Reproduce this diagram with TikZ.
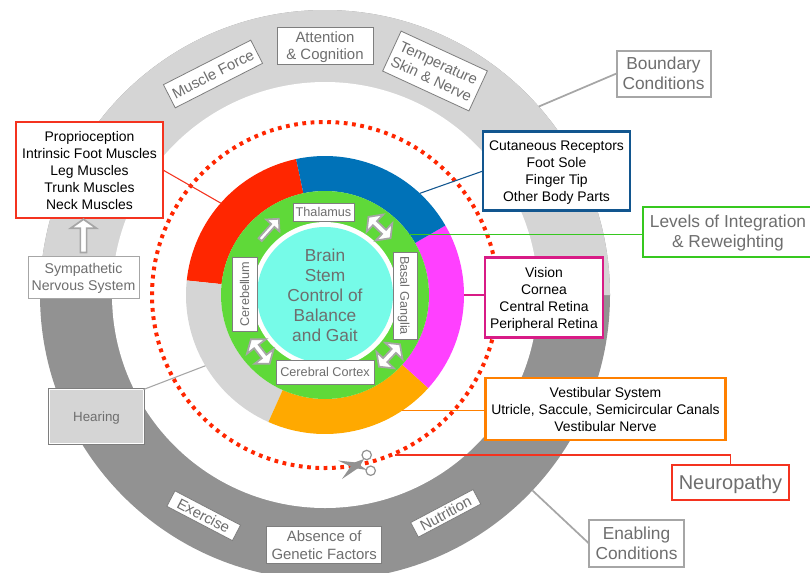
\documentclass[tikz,border=0pt]{standalone}
\usepackage{fontspec}
\setmainfont{Liberation Sans}
\usetikzlibrary{calc, shapes.arrows}
\definecolor{ringlight}{HTML}{D5D5D5}
\definecolor{ringdark}{HTML}{929292}
\definecolor{segred}{HTML}{FF2600}
\definecolor{segblue}{HTML}{0072B8}
\definecolor{segmagenta}{HTML}{FF40FF}
\definecolor{segorange}{HTML}{FFA900}
\definecolor{seggreen}{HTML}{5FD939}
\definecolor{segcyan}{HTML}{76FBE8}
\definecolor{labelgray}{HTML}{6E6E6E}
\definecolor{framegray}{HTML}{A6A6A6}
\definecolor{framedark}{HTML}{7E7E7E}
\definecolor{framered}{HTML}{F4331F}
\definecolor{frameblue}{HTML}{12568F}
\definecolor{framemagenta}{HTML}{D81B86}
\definecolor{frameorange}{HTML}{FF8000}
\definecolor{framegreen}{HTML}{36C81F}

\begin{document}
\begin{tikzpicture}[x=0.75pt, y=-0.75pt]
\tikzset{
  boxsize/.style 2 args={minimum width=#1*0.75pt, minimum height=#2*0.75pt},
  every node/.style={inner sep=0pt, outer sep=0pt, align=center},
  sense/.style={fill=white, line width=1.8pt, text=black, text depth=-1pt, font=\fontsize{10.45}{12.75}\selectfont},
  ringbox/.style={draw=framedark, fill=white, line width=0.6pt, text=labelgray, text depth=-1pt, font=\fontsize{11.2}{13}\selectfont},
  corebox/.style={ringbox, font=\fontsize{9.5}{11}\selectfont},
  bigbox/.style={draw=framegray, fill=white, line width=1.5pt, text=labelgray, text depth=-1pt, font=\fontsize{13}{15}\selectfont},
  onearrow/.style={single arrow, draw=framegray, fill=white, line width=1.3pt, inner sep=0.3pt, sloped, allow upside down, minimum height=21pt, minimum width=13.5pt, single arrow head extend=3pt},
  twoarrow/.style={double arrow, draw=framegray, fill=white, line width=1.3pt, inner sep=0.3pt, sloped, allow upside down, minimum height=23pt, minimum width=18pt, double arrow head extend=3pt, double arrow tip angle=106},
  leader/.style={line width=0.8pt}
}
\useasboundingbox (0,0) rectangle (810,572);
\clip (0,0) rectangle (810,572);
\coordinate (C) at (325,295);

% rings, all angles as seen on the page
\begin{scope}[shift={(C)}, x=0.75pt, y=0.75pt]
\fill [ringdark] (0,0) circle (285);
\fill [ringlight] (-285,0) arc (180:0:285) -- cycle;
\fill [white] (0,0) circle (213);
\foreach \segcol/\segfrom/\segto in {segred/102/174, ringlight/174/246, segorange/246/318, segmagenta/318/390, segblue/30/102}
  \fill [\segcol] (\segfrom:139) arc (\segfrom:\segto:139) -- (\segto:104) arc (\segto:\segfrom:104) -- cycle;
\fill [seggreen] (0,0) circle (104);
\fill [white] (0,0) circle (73);
\fill [segcyan] (0,0) circle (68);
\draw [segred, line width=3pt, dash pattern=on 2.8pt off 3.43pt] (0,0) circle (173);
\coordinate (Sred) at (138.6:139);
\coordinate (Sblue) at (47:139);
\coordinate (Smagenta) at (0:139);
\coordinate (Sorange) at (-56.5:139);
\coordinate (Sgray) at (210.6:139);
\coordinate (Sgreen) at (35.7:104);
\coordinate (Bound) at (41.4:285);
\coordinate (Enab) at (-43.3:285);
\end{scope}
\coordinate (Cut) at (395,455);

\node [text=labelgray, font=\fontsize{13}{15}\selectfont] (core) at (325,295) {Brain\\Stem\\Control of\\Balance\\and Gait};

% the scissors
\fill [ringdark] (338,460.5) -- (356,462.5) -- (367,470) -- (354,468) -- cycle;
\fill [ringdark] (342,479) -- (353,463) -- (364,459) -- (359,467.5) -- cycle;
\draw [ringdark, fill=white, line width=0.9pt] (366.7,455) circle (4.7);
\draw [ringdark, fill=white, line width=0.9pt] (370.7,470.7) circle (4.7);

% boxes
\node [sense, draw=framered, boxsize={147}{96}] (proprio) at (89.5,170) {Proprioception\\Intrinsic Foot Muscles\\Leg Muscles\\Trunk Muscles\\Neck Muscles};
\node [sense, draw=frameblue, boxsize={147}{79}] (cutan) at (556.5,171) {Cutaneous Receptors\\Foot Sole\\Finger Tip\\Other Body Parts};
\node [sense, draw=framemagenta, boxsize={118}{80}] (vision) at (544,297.5) {Vision\\Cornea\\Central Retina\\Peripheral Retina};
\node [sense, draw=frameorange, boxsize={240}{62}] (vestib) at (605.5,409) {Vestibular System\\Utricle, Saccule, Semicircular Canals\\Vestibular Nerve};

\node [bigbox, boxsize={94}{46}] (boundary) at (663.5,73.5) {Boundary\\Conditions};
\node [bigbox, boxsize={95}{47}] (enabling) at (636.5,543.5) {Enabling\\Conditions};
\node [bigbox, draw=framegreen, boxsize={170}{50}] (levels) at (728,231.5) {Levels of Integration\\\& Reweighting};
\node [bigbox, draw=framered, line width=1.8pt, boxsize={117}{35}, font=\fontsize{15}{17}\selectfont] (neuro) at (730.5,482.5) {Neuropathy};

\node [ringbox, boxsize={96}{37}] (attention) at (325,45.5) {Attention\\\& Cognition};
\node [ringbox, boxsize={98}{26}, rotate=27] (muscle) at (213,74) {Muscle Force};
\node [ringbox, boxsize={95}{44}, rotate=-24.8] (temper) at (435,71) {Temperature\\Skin \& Nerve};
\node [ringbox, boxsize={74}{17.5}, rotate=-27.6] (exercise) at (203.7,515.7) {Exercise};
\node [ringbox, boxsize={70.6}{16.5}, rotate=27.9] (nutrition) at (445.7,513.3) {Nutrition};
\node [ringbox, boxsize={115}{36.6}] (absence) at (324.2,545) {Absence of\\Genetic Factors};
\node [ringbox, draw=framegray, boxsize={111}{42}, font=\fontsize{10.6}{12.75}\selectfont] (sympath) at (83.5,277) {Sympathetic\\Nervous System};
\node [ringbox, draw=white, fill=ringlight, line width=1.1pt, preaction={draw=framedark, line width=2.2pt}, boxsize={94}{54}, font=\fontsize{10}{12}\selectfont] (hearing) at (96.5,416.5) {Hearing};

\node [corebox, boxsize={61}{18}] (thalamus) at (323.5,212) {Thalamus};
\node [corebox, boxsize={98}{24}] (cortex) at (325,372) {Cerebral Cortex};
\node [corebox, boxsize={87}{24}, rotate=-90] (basal) at (405,295.5) {Basal Ganglia};
\node [corebox, boxsize={74}{25}, rotate=90] (cerebel) at (244.5,294) {Cerebellum};

% connectors
\draw [leader, framered] (Sred) -- (proprio.east);
\draw [leader, frameblue] (Sblue) -- (cutan.west);
\draw [leader, framemagenta] (Smagenta) -- (Smagenta -| vision.west);
\draw [leader, frameorange] (Sorange) -- (Sorange -| vestib.west);
\draw [leader, line width=1.1pt, framegreen] (Sgreen) -- (Sgreen -| levels.west);
\draw [leader, framegray] (Sgray) -- (hearing.north east);
\draw [leader, line width=1.3pt, framegray] (Bound) -- (boundary.west);
\draw [leader, line width=1.3pt, framegray] (Enab) -- (enabling.west);
\draw [leader, line width=1.1pt, framered] (Cut) -| (neuro.north);

% block arrows
\path (sympath.north) -- node [onearrow, minimum height=25pt, minimum width=19.5pt, single arrow tip angle=110] (symparrow) {} (sympath.north |- proprio.south);
\path (cerebel.east) -- node [onearrow] (arrowA) {} (thalamus.north west);
\path (thalamus.north east) -- node [twoarrow] (arrowB) {} (basal.west);
\path (cerebel.west) -- node [twoarrow] (arrowC) {} (cortex.west);
\path (cortex.east) -- node [twoarrow] (arrowD) {} (basal.east);

\end{tikzpicture}
\end{document}
